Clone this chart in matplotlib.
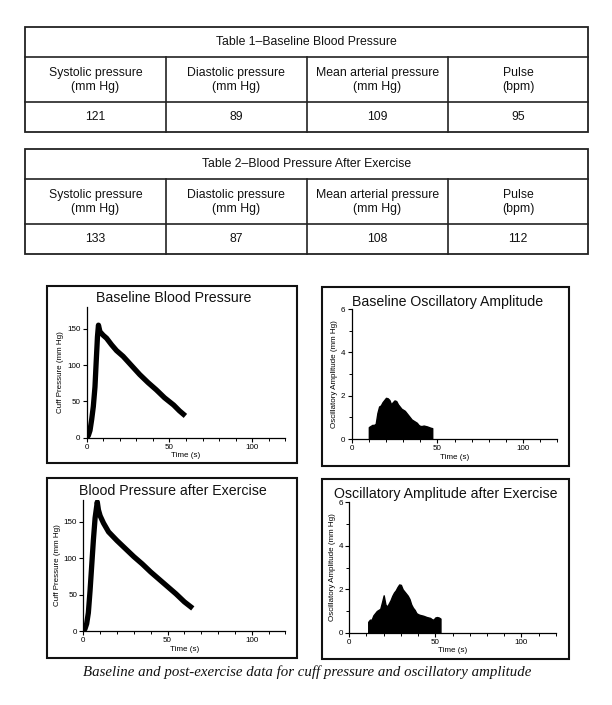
import matplotlib
matplotlib.use("Agg")
import matplotlib.pyplot as plt
from matplotlib.patches import Rectangle
from matplotlib.ticker import MultipleLocator

# ---------------- data ----------------
table_headers = ["Systolic pressure\n(mm Hg)", "Diastolic pressure\n(mm Hg)",
                 "Mean arterial pressure\n(mm Hg)", "Pulse\n(bpm)"]
table1_title = "Table 1\u2013Baseline Blood Pressure"
table1_values = ["121", "89", "109", "95"]
table2_title = "Table 2\u2013Blood Pressure After Exercise"
table2_values = ["133", "87", "108", "112"]

bp_base_t = [0, 1, 2, 3, 4, 5, 5.7, 6.5, 7.1, 8, 10, 12, 15, 18, 22, 26, 32, 37, 42, 47, 52.5, 56, 59.6]
bp_base_p = [0, 3, 10, 25, 43, 70, 103, 139, 155, 146, 141, 137, 128, 120, 112, 102, 87, 76, 66, 55, 45, 37, 30]

bp_ex_t = [0, 1, 2, 3, 4, 5, 6, 7, 8.3, 9, 10, 12, 15, 20, 25, 30, 35, 40, 45, 50, 55, 60, 65]
bp_ex_p = [0, 3, 10, 25, 55, 90, 125, 155, 177, 166, 158, 148, 136, 124, 113, 102, 92, 81, 71, 61, 51, 40, 31]

amp_base_t = [10, 11, 12, 13, 14, 15, 16, 17, 18, 19, 20, 21, 22, 23, 24, 25, 26, 27, 28,
              29, 30, 31, 32, 33, 34, 35, 36, 37, 38, 39, 40, 41, 42, 43, 44, 45, 46, 47]
amp_base_a = [0.55, 0.6, 0.65, 0.65, 0.7, 1.2, 1.5, 1.55, 1.7, 1.8, 1.9, 1.88, 1.8, 1.6, 1.7,
              1.78, 1.75, 1.6, 1.5, 1.4, 1.35, 1.3, 1.2, 1.1, 1.0, 0.9, 0.85, 0.8, 0.75, 0.65,
              0.6, 0.6, 0.62, 0.6, 0.58, 0.55, 0.52, 0.5]

amp_ex_t = [11, 12, 13, 14, 15, 16, 17, 18, 19, 20, 21, 22, 23, 24, 25, 26, 27, 28, 29, 30,
            31, 32, 33, 34, 35, 36, 37, 38, 39, 40, 41, 42, 43, 44, 45, 46, 47, 48, 49, 50,
            51, 52, 53]
amp_ex_a = [0.5, 0.6, 0.6, 0.8, 0.9, 1.0, 1.05, 1.1, 1.4, 1.72, 1.3, 1.2, 1.35, 1.5, 1.7,
            1.85, 1.95, 2.1, 2.22, 2.2, 2.0, 1.9, 1.8, 1.7, 1.55, 1.3, 1.15, 1.05, 0.9, 0.85,
            0.82, 0.8, 0.78, 0.75, 0.72, 0.7, 0.68, 0.62, 0.6, 0.7, 0.72, 0.7, 0.65]

panel_titles = ["Baseline Blood Pressure", "Baseline Oscillatory Amplitude",
                "Blood Pressure after Exercise", "Oscillatory Amplitude after Exercise"]
caption = "Baseline and post-exercise data for cuff pressure and oscillatory amplitude"

# ---------------- figure ----------------
W, H = 612, 705
fig = plt.figure(figsize=(W / 100, H / 100), dpi=100)
fig.patch.set_facecolor("white")
SANS = ["Liberation Sans", "DejaVu Sans"]

bg = fig.add_axes([0, 0, 1, 1])
bg.set_xlim(0, W)
bg.set_ylim(H, 0)
bg.axis("off")

LC = "#222222"
TFS = 8.8


def draw_table(top, title_bot, head_bot, bottom, title, values):
    left, right = 24.7, 588.3
    divs = [166, 306.7, 447.7]
    bg.add_patch(Rectangle((left, top), right - left, bottom - top, fill=False,
                           ec=LC, lw=1.3))
    bg.plot([left, right], [title_bot, title_bot], color=LC, lw=1.2)
    bg.plot([left, right], [head_bot, head_bot], color=LC, lw=1.2)
    for d in divs:
        bg.plot([d, d], [title_bot, bottom], color=LC, lw=1.2)
    bg.text((left + right) / 2, (top + title_bot) / 2, title, ha="center", va="center",
            fontsize=TFS, family=SANS, color="#111111")
    xs = [left] + divs + [right]
    for i in range(4):
        cx = (xs[i] + xs[i + 1]) / 2
        bg.text(cx, (title_bot + head_bot) / 2, table_headers[i], ha="center", va="center",
                fontsize=TFS, family=SANS, color="#111111", linespacing=1.25)
        bg.text(cx, (head_bot + bottom) / 2, values[i], ha="center", va="center",
                fontsize=TFS, family=SANS, color="#111111")


draw_table(26.5, 57.3, 102.3, 132.3, table1_title, table1_values)
draw_table(149, 179, 224.3, 254.3, table2_title, table2_values)

# panel frames
frames = [(47.3, 286, 297, 462.7), (321.7, 287, 568.5, 465.7),
          (47.3, 478, 297, 658), (321.7, 479, 568.5, 659)]
for (x0, y0, x1, y1) in frames:
    bg.add_patch(Rectangle((x0, y0), x1 - x0, y1 - y0, fill=False, ec="#111111", lw=1.5))

bg.text(307, 672, caption, ha="center", va="center", fontsize=10.7,
        family=["Liberation Serif", "DejaVu Serif"], style="italic", color="#111111")


def px_axes(x0, x1, ybot, ytop):
    return fig.add_axes([x0 / W, (H - ybot) / H, (x1 - x0) / W, (ybot - ytop) / H])


def style(ax, ymax, ymaj, ymin, ylabel):
    ax.set_xlim(0, 120)
    ax.set_ylim(0, ymax)
    ax.spines["top"].set_visible(False)
    ax.spines["right"].set_visible(False)
    for s in ("left", "bottom"):
        ax.spines[s].set_linewidth(0.9)
    ax.set_facecolor("none")
    ax.xaxis.set_major_locator(MultipleLocator(50))
    ax.xaxis.set_minor_locator(MultipleLocator(10))
    ax.yaxis.set_major_locator(MultipleLocator(ymaj))
    if ymin:
        ax.yaxis.set_minor_locator(MultipleLocator(ymin))
    ax.tick_params(which="major", direction="out", length=3, width=0.8, labelsize=5.8, pad=1.5)
    ax.tick_params(which="minor", direction="out", length=2, width=0.7)
    for lab in ax.get_xticklabels() + ax.get_yticklabels():
        lab.set_family(SANS)
    ax.set_xlabel("Time (s)", fontsize=5.8, family=SANS, labelpad=1)
    ax.set_ylabel(ylabel, fontsize=5.8, family=SANS, labelpad=2)


# Panel 1
ax1 = px_axes(86.7, 285.4, 437.7, 307)
ax1.plot(bp_base_t, bp_base_p, color="black", lw=3.8, solid_capstyle="butt")
style(ax1, 180, 50, None, "Cuff Pressure (mm Hg)")

# Panel 2
ax2 = px_axes(351.7, 557.3, 439, 309)
ax2.fill_between(amp_base_t, amp_base_a, 0, color="black", lw=1.0)
style(ax2, 6, 2, 1, "Oscillatory Amplitude (mm Hg)")

# Panel 3
ax3 = px_axes(83.3, 285.4, 631, 499.8)
ax3.plot(bp_ex_t, bp_ex_p, color="black", lw=3.8, solid_capstyle="butt")
style(ax3, 180, 50, None, "Cuff Pressure (mm Hg)")

# Panel 4
ax4 = px_axes(349.3, 555.7, 632.7, 502.3)
ax4.fill_between(amp_ex_t, amp_ex_a, 0, color="black", lw=1.0)
style(ax4, 6, 2, 1, "Oscillatory Amplitude (mm Hg)")

# panel titles
title_pos = [(174, 298), (448, 302), (173, 491), (446, 494)]
for (tx, ty), t in zip(title_pos, panel_titles):
    bg.text(tx, ty, t, ha="center", va="center", fontsize=10.2, family=SANS, color="#111111")

fig.savefig("out.png", dpi=100, facecolor="white")
